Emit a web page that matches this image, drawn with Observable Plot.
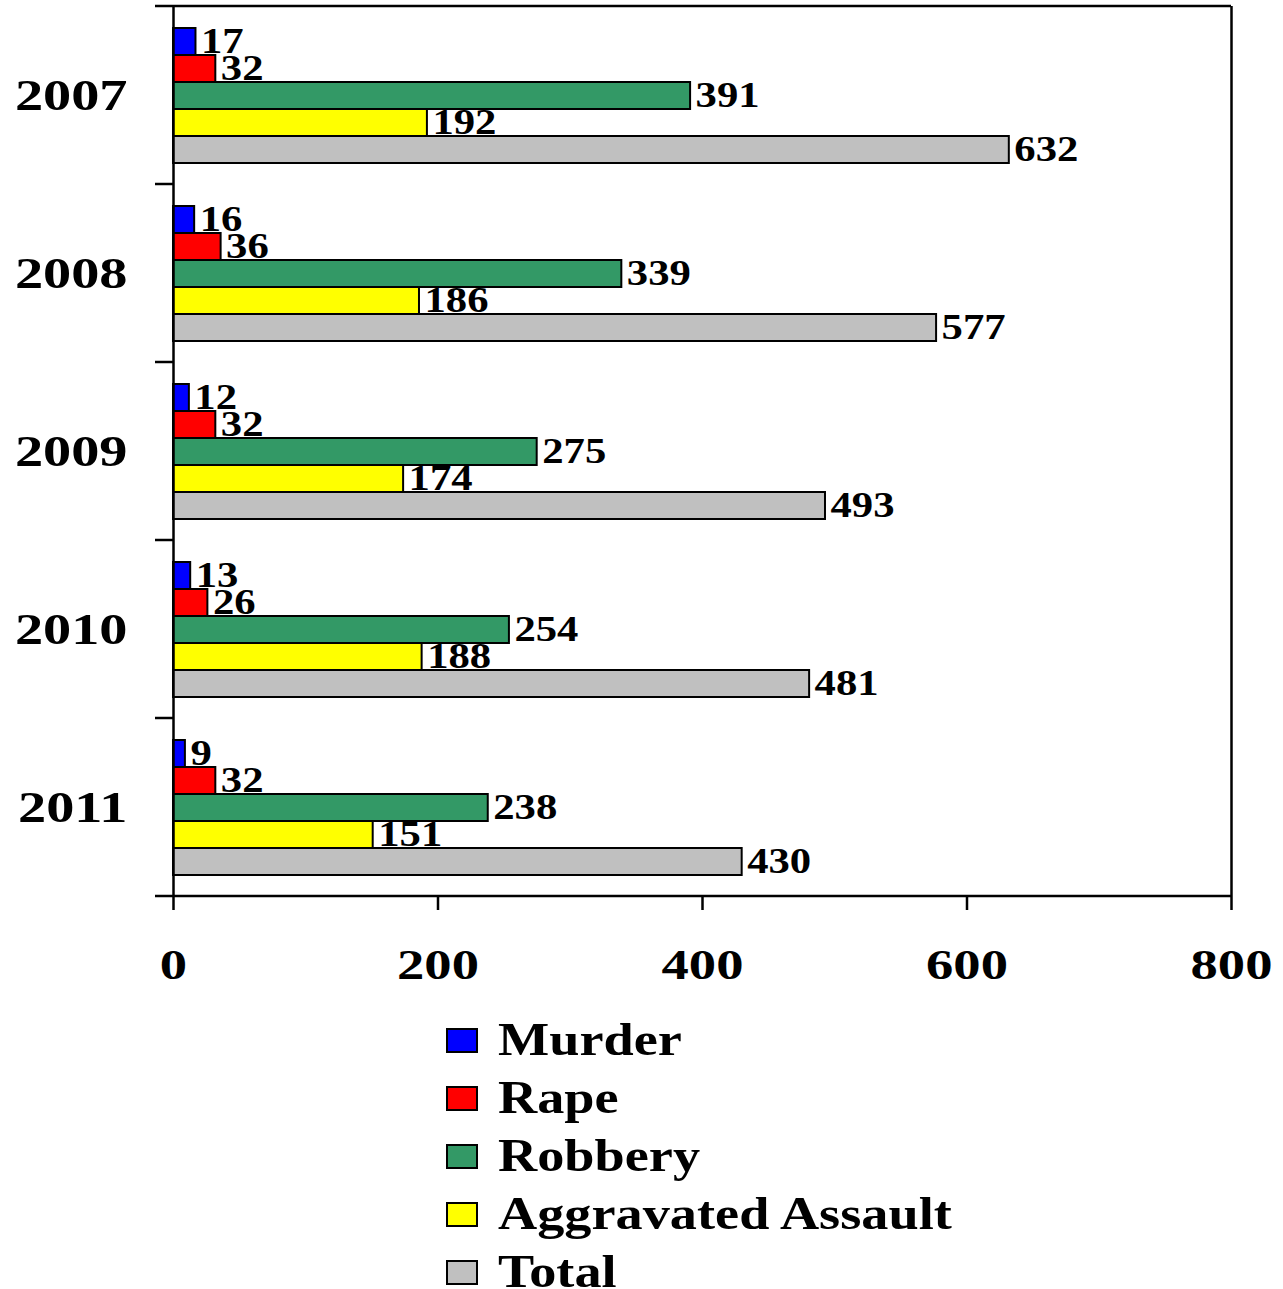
<!DOCTYPE html>
<html><head><meta charset="utf-8">
<script src="https://cdn.jsdelivr.net/npm/d3@7"></script>
<script src="https://cdn.jsdelivr.net/npm/@observablehq/plot@0.6"></script>
<style>
body{margin:0;background:#fff;font-family:"Liberation Serif","Times New Roman",serif;}
#chart svg{display:block}
#legend{margin-left:446px;margin-top:11px}
.row{display:flex;align-items:center;height:58px}
.sw{width:32px;height:25px;border:2px solid #000;box-sizing:border-box;flex:none}
.lab{font-size:46px;font-weight:bold;margin-left:20px;transform:scaleX(1.18);transform-origin:left center;white-space:nowrap;line-height:34px;height:34px}
</style></head><body>
<div id="chart"></div><div id="legend"></div>
<script>
const years = ["2007","2008","2009","2010","2011"];
const series = ["Murder","Rape","Robbery","Aggravated Assault","Total"];
const colors = ["#0000FF","#FF0000","#339966","#FFFF00","#C0C0C0"];
const murder = [17,16,12,13,9];
const rape = [32,36,32,26,32];
const robbery = [391,339,275,254,238];
const aggravated = [192,186,174,188,151];
const total = [632,577,493,481,430];
const xTicks = [0,200,400,600,800];

const cols = [murder, rape, robbery, aggravated, total];
const rows = [];
years.forEach((yr,i)=>series.forEach((s,j)=>rows.push({year:yr, series:s, value:cols[j][i]})));

const plot = Plot.plot({
  width:1283, height:1000, marginTop:6, marginBottom:104, marginLeft:173, marginRight:52,
  style:{fontFamily:"Liberation Serif", background:"#fff", overflow:"visible"},
  x:{domain:[0,800]},
  y:{domain:series, paddingInner:0, paddingOuter:0.755, axis:null},
  fy:{domain:years, padding:0},
  color:{domain:series, range:colors},
  marks:[
    Plot.barX(rows,{fy:"year", y:"series", x:"value", fill:"series", stroke:"#000", strokeWidth:2}),
    Plot.text(rows,{fy:"year", y:"series", x:"value", text:"value", textAnchor:"start", dx:5, fontSize:35, fontWeight:"bold", fill:"#000"}),
    Plot.ruleX([0,800],{stroke:"#000", strokeWidth:2.5}),
    Plot.axisFy({anchor:"left", tickSize:0, tickPadding:46, fontSize:44, fontWeight:"bold", label:null, fill:"#000"}),
    Plot.axisX({anchor:"bottom", ticks:xTicks, tickSize:14, tickPadding:39, fontSize:42, fontWeight:"bold", label:null, strokeWidth:2.5, stroke:"#000", fill:"#000", tickFormat:d=>String(d)})
  ]
});
document.getElementById("chart").append(plot);

const svg = d3.select(plot);
const fy = plot.scale("fy"), x = plot.scale("x");
const x0 = x.apply(0), x1 = x.apply(800);
const edges = years.map(y=>fy.apply(y));
edges.push(fy.apply(years[years.length-1]) + fy.bandwidth);
const g = svg.append("g").attr("stroke","#000").attr("stroke-width",2.5);
edges.forEach((e,i)=>{
  const full = (i===0 || i===edges.length-1);
  g.append("line").attr("x1",x0-18).attr("x2",full?x1:x0).attr("y1",e).attr("y2",e);
});

function stretch(sel,k){
  sel.each(function(){
    const L=this.getComputedTextLength();
    this.setAttribute("textLength", L*k);
    this.setAttribute("lengthAdjust","spacingAndGlyphs");
  });
}
stretch(svg.selectAll('g[aria-label="fy-axis tick label"] text'),1.28);
stretch(svg.selectAll('g[aria-label="x-axis tick label"] text'),1.3);
stretch(svg.selectAll('g[aria-label="text"] text'),1.22);

const leg = d3.select("#legend");
series.forEach((s,i)=>{
  const r = leg.append("div").attr("class","row");
  r.append("div").attr("class","sw").style("background",colors[i]);
  r.append("div").attr("class","lab").text(s);
});
</script>
</body></html>
